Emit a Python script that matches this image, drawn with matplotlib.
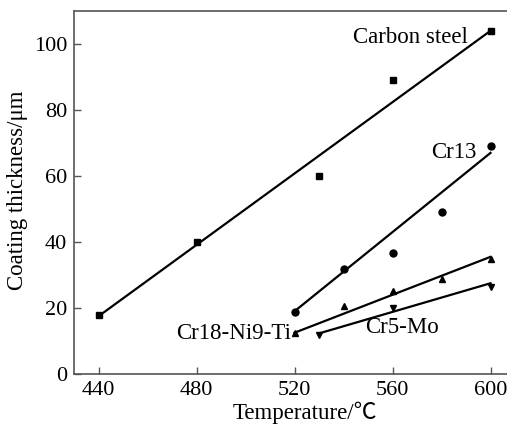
import matplotlib
matplotlib.use("Agg")
import matplotlib.pyplot as plt

plt.rcParams['font.family'] = ['Liberation Serif', 'DejaVu Serif']
plt.rcParams['mathtext.fontset'] = 'stix'

# Data
carbon_x = [440, 480, 530, 560, 600]
carbon_y = [18, 40, 60, 89, 104]
carbon_fit_x = [440, 600]
carbon_fit_y = [17.5, 104]

cr13_x = [520, 540, 560, 580, 600]
cr13_y = [18.7, 31.8, 36.8, 49, 69]
cr13_fit_x = [520, 600]
cr13_fit_y = [19, 67]

cr18_x = [520, 540, 560, 580, 600]
cr18_y = [12.5, 20.6, 25.2, 28.7, 34.9]
cr18_fit_x = [520, 600]
cr18_fit_y = [12.5, 35.5]

cr5_x = [530, 560, 600]
cr5_y = [11.8, 19.9, 26.5]
cr5_fit_x = [530, 600]
cr5_fit_y = [12.3, 27.5]

x_ticks = [440, 480, 520, 560, 600]
y_ticks = [0, 20, 40, 60, 80, 100]

W, H = 507, 432
left_px, bottom_px, top_px = 74, 374, 11
axw_px = W + 5 - left_px
fig = plt.figure(figsize=(W / 100, H / 100), dpi=100)
ax = fig.add_axes([left_px / W, 1 - bottom_px / H, axw_px / W, (bottom_px - top_px) / H])

lw = 1.6
ax.plot(carbon_fit_x, carbon_fit_y, color='black', lw=lw)
ax.plot(carbon_x, carbon_y, 's', color='black', ms=5)
ax.plot(cr13_fit_x, cr13_fit_y, color='black', lw=lw)
ax.plot(cr13_x, cr13_y, 'o', color='black', ms=5)
ax.plot(cr18_fit_x, cr18_fit_y, color='black', lw=lw)
ax.plot(cr18_x, cr18_y, '^', color='black', ms=5)
ax.plot(cr5_fit_x, cr5_fit_y, color='black', lw=lw)
ax.plot(cr5_x, cr5_y, 'v', color='black', ms=5)

fs = 16.5
tfs = 16
ax.text(590.6, 102, 'Carbon steel', ha='right', va='center', fontsize=fs)
ax.text(594.3, 67, 'Cr13', ha='right', va='center', fontsize=fs)
ax.text(518.5, 12.4, 'Cr18-Ni9-Ti', ha='right', va='center', fontsize=fs)
ax.text(549, 14, 'Cr5-Mo', ha='left', va='center', fontsize=fs)

ax.set_xlim(430, 430 + axw_px / 2.45)
ax.set_ylim(0, 110)
ax.set_xticks(x_ticks)
ax.set_yticks(y_ticks)
ax.tick_params(direction='in', length=5, width=1, color='#555555',
               labelsize=tfs, pad=5)
for s in ['left', 'bottom', 'top']:
    ax.spines[s].set_color('#555555')
    ax.spines[s].set_linewidth(1.2)
ax.spines['right'].set_visible(False)

ax.set_xlabel('Temperature/℃', fontsize=fs,
              family=['Liberation Serif', 'Noto Sans CJK SC', 'DejaVu Sans'])
ax.set_ylabel('Coating thickness/μm', fontsize=fs)
ax.xaxis.set_label_coords((305 - left_px) / axw_px, -(413 - bottom_px) / (bottom_px - top_px),
                          transform=ax.transAxes)
ax.xaxis.label.set_va('center')
ax.yaxis.set_label_coords(-(left_px - 18) / axw_px, 0.5 - (190 - 192.5) / (bottom_px - top_px),
                          transform=ax.transAxes)
ax.yaxis.label.set_va('center')

fig.savefig('out.png', dpi=100)
